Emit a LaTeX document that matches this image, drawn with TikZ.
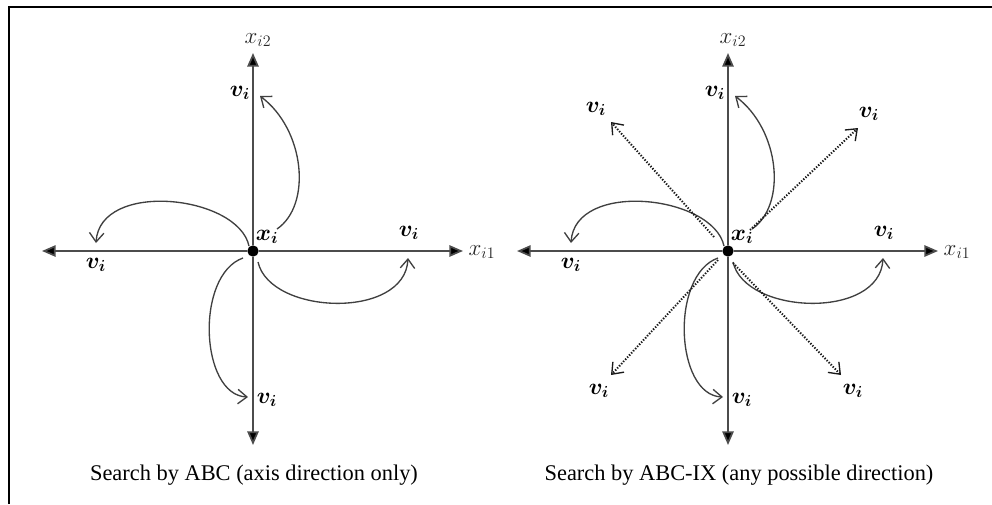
\documentclass[tikz,border=0pt]{standalone}
\usepackage{amsmath,amssymb,bm}
\usepackage{fontspec}
\setmainfont{Liberation Serif}
\usetikzlibrary{arrows.meta}

\begin{document}
\begin{tikzpicture}[
  x=0.75pt, y=-0.75pt,
  axis/.style={draw=black!70, line width=1.3pt, -{Triangle[length=3.6mm,width=3mm,fill=black]}},
  move/.style={draw=black!75, line width=1pt, -{Straight Barb[length=2.4mm,width=3.8mm]}},
  ixmove/.style={draw=black!90, line width=1.5pt, dash pattern=on 1pt off 1.2pt, -{Straight Barb[length=2.6mm,width=4mm,line width=1pt]}},
  vlab/.style={font=\fontsize{18}{20}\selectfont, inner sep=0pt},
  axlab/.style={font=\fontsize{17}{20}\selectfont, text=black!85, inner sep=0pt},
  captxt/.style={font=\fontsize{16.8}{20}\selectfont, inner sep=0pt},
  dot/.style={circle, fill=black, inner sep=0pt, minimum size=8.5pt}
]
\useasboundingbox (0,0) rectangle (992,504);
% frame (cut at right and bottom)
\draw[line width=1.5pt] (9,504) -- (9,7) -- (992,7);

% both panels: axes, centre and the four axis moves
\foreach \p/\dx in {L/0,R/475}{
  \begin{scope}[shift={(\dx,0)}]
    \node[dot] (c\p) at (253,251) {};
    \coordinate (w\p) at (42,251);
    \coordinate (e\p) at (463,251);
    \coordinate (n\p) at (253,53);
    \coordinate (s\p) at (253,445);
    \draw[axis] (c\p) -- (w\p);
    \draw[axis] (c\p) -- (e\p);
    \draw[axis] (c\p) -- (n\p);
    \draw[axis] (c\p) -- (s\p);

    \node[axlab] (xa\p) at (258,40) {$x_{i2}$};
    \node[axlab] (xb\p) at (482,252) {$x_{i1}$};
    \node[vlab] (xi\p) at (267,237) {$\bm{x_i}$};
    \node[vlab] (vn\p) at (240,93) {$\bm{v_i}$};
    \node[vlab] (vw\p) at (96,265) {$\bm{v_i}$};
    \node[vlab] (ve\p) at (409,233) {$\bm{v_i}$};
    \node[vlab] (vs\p) at (267,400) {$\bm{v_i}$};

    \draw[move] (277,229) .. controls (312,205) and (305,130) .. (260,96);
    \draw[move] (249,246) .. controls (238,195) and (100,180) .. (96,243);
    \draw[move] (258,262) .. controls (270,315) and (405,320) .. (408,258);
    \draw[move] (243,258) .. controls (195,275) and (200,395) .. (248,397);
  \end{scope}
}

% any possible direction (right panel only)
\begin{scope}[shift={(475,0)}]
  \node[vlab] (vnw) at (121,109) {$\bm{v_i}$};
  \node[vlab] (vne) at (394,114) {$\bm{v_i}$};
  \node[vlab] (vsw) at (124,391) {$\bm{v_i}$};
  \node[vlab] (vse) at (378,391) {$\bm{v_i}$};
  \draw[ixmove] (239,237) -- (136,122);
  \draw[ixmove] (275,230) -- (383,128);
  \draw[ixmove] (243,260) -- (136,375);
  \draw[ixmove] (258,263) -- (366,375);
\end{scope}

\node[captxt] (capL) at (254,475) {Search by ABC (axis direction only)};
\node[captxt] (capR) at (739,475) {Search by ABC-IX (any possible direction)};
\end{tikzpicture}
\end{document}
